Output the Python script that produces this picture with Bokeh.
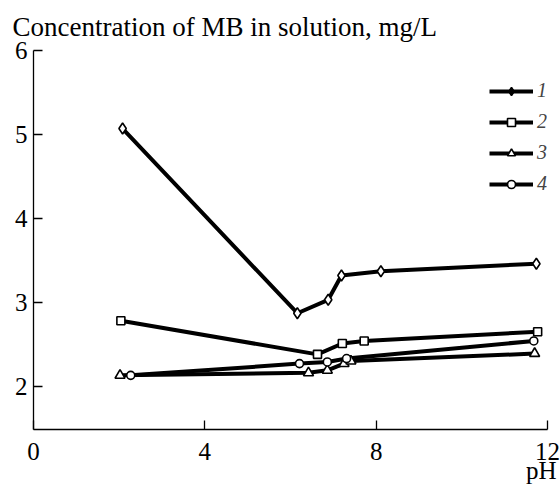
from bokeh.plotting import figure
from bokeh.models import ColumnDataSource, Legend, LegendItem, Title, FixedTicker, Range1d
from bokeh.embed import file_html
from bokeh.resources import INLINE

# Data
ph_1 = [2.08, 6.16, 6.88, 7.19, 8.11, 11.74]
mb_1 = [5.07, 2.87, 3.03, 3.32, 3.37, 3.46]
ph_2 = [2.04, 6.63, 7.21, 7.72, 11.77]
mb_2 = [2.78, 2.38, 2.51, 2.54, 2.65]
ph_3 = [2.02, 6.42, 6.86, 7.25, 7.41, 11.70]
mb_3 = [2.13, 2.16, 2.19, 2.27, 2.30, 2.39]
ph_4 = [2.27, 6.21, 6.86, 7.31, 11.68]
mb_4 = [2.13, 2.27, 2.29, 2.33, 2.54]

series_labels = ["1", "2", "3", "4"]
x_ticks = [0, 4, 8, 12]
y_ticks = [2, 3, 4, 5, 6]

FONT = "Liberation Serif"

p = figure(frame_width=514, frame_height=379, output_backend="svg",
           toolbar_location=None, x_range=Range1d(0, 12), y_range=Range1d(1.485, 6.0),
           min_border_left=33, min_border_right=13, min_border_top=50, min_border_bottom=60)
p.outline_line_color = None
p.xgrid.visible = False
p.ygrid.visible = False
p.background_fill_color = "white"
p.border_fill_color = "white"

for ax in (p.xaxis[0], p.yaxis[0]):
    ax.axis_line_color = "black"
    ax.axis_line_width = 1.3
    ax.major_tick_line_color = "black"
    ax.major_tick_line_width = 1.3
    ax.major_tick_in = 9
    ax.major_tick_out = 0
    ax.minor_tick_line_color = None
    ax.major_label_text_font = FONT
    ax.major_label_text_font_size = "25px"
    ax.major_label_text_color = "black"

p.xaxis[0].ticker = FixedTicker(ticks=x_ticks)
p.yaxis[0].ticker = FixedTicker(ticks=y_ticks)
p.xaxis[0].major_label_standoff = 13
p.yaxis[0].major_label_standoff = 6

xa = p.xaxis[0]
xa.axis_label = "pH\u00a0\u00a0"
xa.axis_label_align = "end"
xa.axis_label_standoff = -6
xa.axis_label_text_font = FONT
xa.axis_label_text_font_size = "25px"
xa.axis_label_text_font_style = "normal"
xa.axis_label_text_color = "black"

data = [(ph_1, mb_1, "diamond", 11), (ph_2, mb_2, "square", 8),
        (ph_3, mb_3, "triangle", 10), (ph_4, mb_4, "circle", 8)]

line_rs = []
for xs, ys, _, _ in data:
    src = ColumnDataSource(dict(x=xs, y=ys))
    line_rs.append(p.line("x", "y", source=src, line_color="black", line_width=4))

for xs, ys, mk, sz in data:
    src = ColumnDataSource(dict(x=xs, y=ys))
    p.scatter("x", "y", source=src, marker=mk, size=sz, fill_color="white",
              line_color="black", line_width=1.6)

# legend-only markers (no visible data point)
leg_fill = ["black", "white", "white", "white"]
leg_size = [10, 7, 9, 7]
items = []
for i, (xs, ys, mk, sz) in enumerate(data):
    proxy = ColumnDataSource(dict(x=[float("nan")], y=[float("nan")]))
    r = p.scatter("x", "y", source=proxy, marker=mk, size=leg_size[i],
                  fill_color=leg_fill[i], line_color="black", line_width=1.6)
    items.append(LegendItem(label=series_labels[i], renderers=[line_rs[i], r], index=0))

legend = Legend(items=items, location=(456, 234), padding=0, margin=0,
                border_line_color=None, background_fill_alpha=0,
                glyph_width=44, glyph_height=20, label_height=20, spacing=8,
                label_standoff=4, label_text_font=FONT, label_text_font_style="italic",
                label_text_font_size="20px")
p.add_layout(legend, "center")

p.add_layout(Title(text="Concentration of MB in solution, mg/L", align="left", offset=-21,
                   text_font=FONT, text_font_size="27px", text_font_style="normal",
                   text_color="black", vertical_align="top", standoff=14), "above")

open("out.html", "w").write(file_html(p, INLINE))
